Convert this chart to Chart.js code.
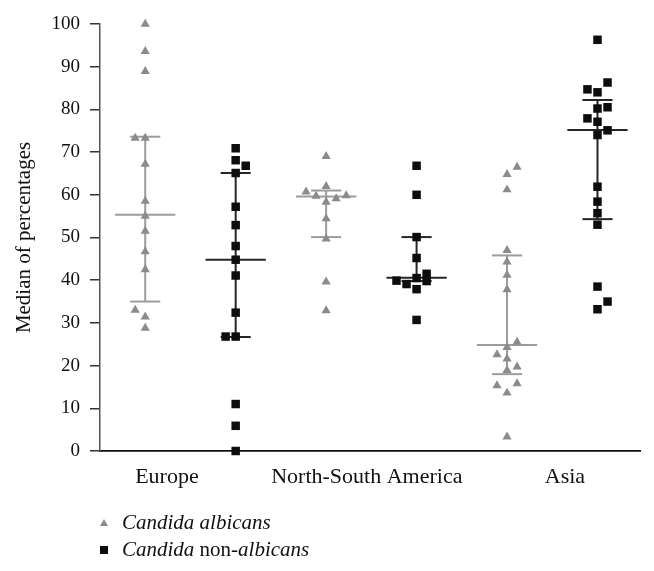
<!DOCTYPE html>
<html>
<head>
<meta charset="utf-8">
<script src="https://cdn.jsdelivr.net/npm/chart.js@4"></script>
<style>
html,body{margin:0;padding:0;background:#fff;}
#wrap{position:relative;width:654px;height:571px;overflow:hidden;}
#c{position:absolute;left:0;top:0;}
.leg{position:absolute;left:122px;font-family:'Liberation Serif','Times New Roman',serif;font-size:21px;line-height:21px;color:#111;white-space:nowrap;}
.tri{position:absolute;left:99.5px;top:519px;width:0;height:0;border-left:4px solid transparent;border-right:4px solid transparent;border-bottom:7px solid #8b8b8b;}
.sq{position:absolute;left:99.5px;top:545.5px;width:8px;height:8px;background:#0d0d0d;}
</style>
</head>
<body>
<div id="wrap">
  <canvas id="c" width="654" height="571"></canvas>
  <div class="tri"></div>
  <div class="leg" style="top:512px"><i>Candida albicans</i></div>
  <div class="sq"></div>
  <div class="leg" style="top:538.5px"><i>Candida</i> non-<i>albicans</i></div>
</div>
<script>
// ---------- data ----------
const categories = ['Europe', 'North-South America', 'Asia'];
const yAxisTitle = 'Median of percentages';

// Candida albicans values per region
const albEurope  = [100, 93.6, 88.9, 73.3, 73.3, 67.2, 58.5, 55.0, 51.5, 46.7, 42.5, 33.0, 31.4, 28.8];
const albAmerica = [69.0, 62.0, 60.7, 59.7, 59.8, 59.1, 58.3, 54.4, 49.7, 39.6, 32.9];
const albAsia    = [66.5, 64.8, 61.2, 47.0, 44.3, 41.2, 37.8, 25.5, 24.3, 22.6, 21.6, 19.7, 18.9, 15.8, 15.3, 13.6, 3.3];

// Candida non-albicans values per region
const nonEurope  = [70.9, 68.1, 66.8, 65.1, 57.2, 52.9, 48.0, 44.8, 41.1, 32.4, 26.8, 26.8, 11.0, 5.9, 0];
const nonAmerica = [66.8, 60.0, 50.1, 45.2, 41.5, 40.5, 39.9, 39.8, 39.1, 37.9, 30.7];
const nonAsia    = [96.3, 86.3, 84.7, 84.0, 80.5, 80.2, 77.9, 77.1, 75.1, 74.0, 61.9, 58.4, 55.7, 53.0, 38.5, 35.0, 33.2];

// summary lines (upper, median, lower) per region
const albUpper  = [73.6, 61.0, 45.8];
const albMedian = [55.3, 59.6, 24.8];
const albLower  = [35.0, 50.1, 18.0];
const nonUpper  = [65.1, 50.1, 82.2];
const nonMedian = [44.8, 40.6, 75.2];
const nonLower  = [26.7, 39.8, 54.3];

// ---------- layout (not data) ----------
const albCol = [1, 3, 5];
const nonCol = [2, 4, 6];
const categoryTickPos = [1.24, 3.45, 5.64];
const SLOT = 0.111;           // horizontal jitter step
const CAP = 0.1665;           // half width of whisker caps
const MED = 0.333;            // half width of median line
const albSlots = [
  [0,0,0,0,-1,0,0,0,0,0,0,-1,0,0],
  [0,0,-2,-1,2,1,0,0,0,0,0],
  [1,0,0,0,0,0,0,1,0,-1,0,1,0,1,-1,0,0]
];
const nonSlots = [
  [0,0,1,0,0,0,0,0,0,0,-1,0,0,0,0],
  [0,0,0,0,1,0,-2,1,-1,0,0],
  [0,1,-1,0,1,0,-1,0,1,0,0,0,0,0,0,1,0]
];

const FONT = "'Liberation Serif','Times New Roman',serif";
const GRAY = '#8b8b8b', GRAY_LINE = '#9c9c9c', BLACK = '#0d0d0d', BLACK_LINE = '#262626';

function points(groups, slots, cols) {
  const out = [];
  groups.forEach((vals, g) => vals.forEach((v, i) => out.push({x: cols[g] + slots[g][i] * SLOT, y: v})));
  return out;
}
function seg(x1, y1, x2, y2, color) {
  return {type: 'line', data: [{x: x1, y: y1}, {x: x2, y: y2}], borderColor: color, borderWidth: 2,
          pointRadius: 0, pointHoverRadius: 0, fill: false, showLine: true, clip: false, tension: 0};
}
function summary(cols, up, med, lo, color) {
  const ds = [];
  cols.forEach((c, i) => {
    ds.push(seg(c, up[i], c, lo[i], color));
    ds.push(seg(c - CAP, up[i], c + CAP, up[i], color));
    ds.push(seg(c - MED, med[i], c + MED, med[i], color));
    ds.push(seg(c - CAP, lo[i], c + CAP, lo[i], color));
  });
  return ds;
}

const datasets = [
  {type: 'line', label: 'Candida albicans', data: points([albEurope, albAmerica, albAsia], albSlots, albCol),
   showLine: false, pointStyle: 'triangle', pointRadius: 5.3, pointHoverRadius: 5.3,
   pointBackgroundColor: GRAY, pointBorderWidth: 0, borderColor: GRAY, clip: false},
  {type: 'line', label: 'Candida non-albicans', data: points([nonEurope, nonAmerica, nonAsia], nonSlots, nonCol),
   showLine: false, pointStyle: 'rect', pointRadius: 6, pointHoverRadius: 6,
   pointBackgroundColor: BLACK, pointBorderWidth: 0, borderColor: BLACK, clip: false},
  ...summary(albCol, albUpper, albMedian, albLower, GRAY_LINE),
  ...summary(nonCol, nonUpper, nonMedian, nonLower, BLACK_LINE)
];

new Chart(document.getElementById('c'), {
  type: 'line',
  data: {datasets},
  options: {
    responsive: false,
    animation: false,
    events: [],
    layout: {padding: {left: 0, right: 14, top: 24, bottom: 80}},
    plugins: {legend: {display: false}, tooltip: {enabled: false}},
    scales: {
      x: {
        type: 'linear', min: 0.5, max: 6.47,
        afterBuildTicks: s => { s.ticks = categoryTickPos.map(v => ({value: v})); },
        afterFit: s => { s.height = 40; },
        ticks: {callback: (v, i) => categories[i], font: {family: FONT, size: 22}, color: '#111',
                padding: 13, autoSkip: false, maxRotation: 0},
        grid: {display: false, drawTicks: false, tickLength: 0},
        border: {display: true, color: '#111', width: 1.8}
      },
      y: {
        min: 0, max: 100,
        afterFit: s => { s.width = 100; },
        ticks: {stepSize: 10, font: {family: FONT, size: 19}, color: '#111', padding: 10},
        grid: {drawOnChartArea: false, drawTicks: true, tickLength: 10, color: '#333', lineWidth: 1.5},
        border: {display: true, color: '#555', width: 1.5},
        title: {display: true, text: yAxisTitle, font: {family: FONT, size: 21}, color: '#111',
                padding: {top: 12, bottom: 0}}
      }
    }
  }
});
</script>
</body>
</html>
